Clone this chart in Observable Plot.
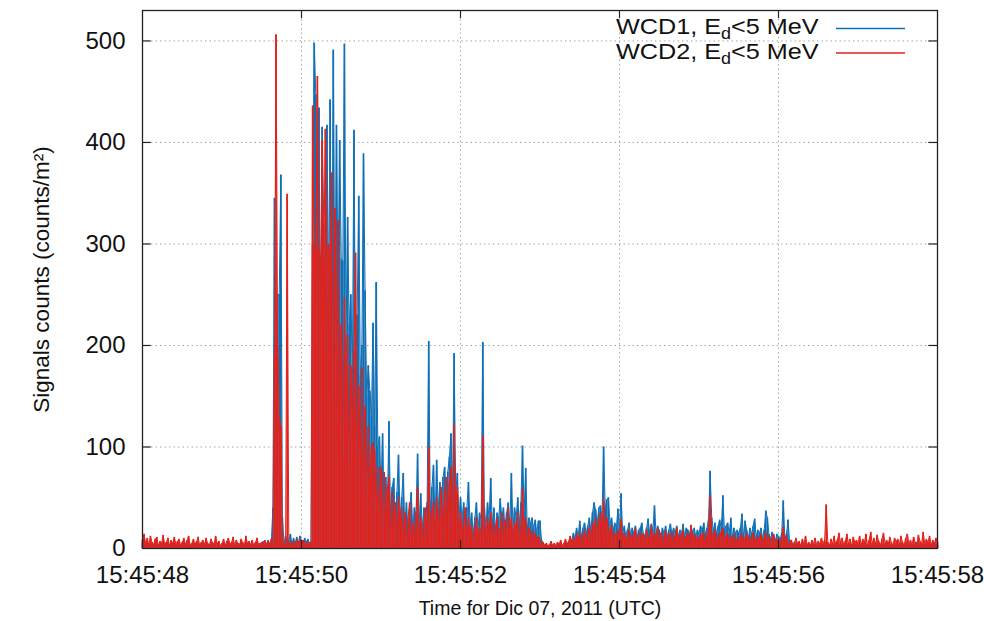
<!DOCTYPE html>
<html>
<head>
<meta charset="utf-8">
<script src="https://cdn.jsdelivr.net/npm/d3@7"></script>
<script src="https://cdn.jsdelivr.net/npm/@observablehq/plot@0.6"></script>
<style>
  html, body { margin: 0; padding: 0; background: #ffffff; }
  #chart { width: 984px; height: 621px; }
</style>
</head>
<body>
<div id="chart"></div>
<script>
// ---- data ----
// sample spacing in seconds after 15:45:48 UTC
const sampleStep = 0.02;
const xTickValues = [0, 2, 4, 6, 8, 10];
const xTickLabels = ["15:45:48", "15:45:50", "15:45:52", "15:45:54", "15:45:56", "15:45:58"];
const yTickValues = [0, 100, 200, 300, 400, 500];
const seriesNames = ["WCD1", "WCD2"];
const xTitle = "Time for Dic 07, 2011 (UTC)";
const yTitle = "Signals counts (counts/m\u00B2)";

// WCD1 (blue), one value per 0.02 s, rows of 0.5 s
const wcd1 = [
  5,9,3,7,2,6,4,3,8,5,2,6,3,7,4,3,6,2,5,3,7,3,4,6,2,
  4,6,3,5,7,2,4,6,3,5,6,2,4,5,3,7,3,2,6,4,3,7,3,5,2,
  3,6,2,5,7,3,4,6,2,5,3,3,6,4,2,7,3,5,3,5,2,4,6,3,3,
  4,7,3,5,8,3,6,40,345,200,250,250,368,30,6,12,4,8,14,4,10,5,11,6,12,
  8,5,10,6,9,4,7,300,498,447,200,434,150,415,320,180,417,250,442,200,491,230,417,260,402,
  285,283,497,210,326,220,250,180,412,180,230,347,170,200,389,254,150,180,155,130,222,120,262,100,110,
  60,113,30,70,40,125,35,60,69,25,55,92,30,50,74,20,45,15,38,55,20,40,30,93,25,
  54,20,40,30,45,204,35,60,82,25,87,40,65,50,70,80,45,75,90,113,60,192,55,74,30,
  50,30,45,20,40,65,25,35,15,30,45,20,35,28,203,40,22,45,30,69,25,40,20,35,30,
  49,30,40,20,35,45,25,74,20,40,30,50,25,45,101,35,79,20,30,25,30,20,28,15,27,
  27,8,5,3,4,2,3,5,2,4,3,5,3,6,2,4,7,3,6,10,8,15,10,20,12,
  27,12,20,25,15,22,30,18,35,45,38,25,40,42,30,100,40,48,50,25,30,18,25,20,39,
  20,54,15,22,12,18,25,14,20,15,22,10,18,20,25,15,12,20,29,15,24,18,42,15,22,
  18,12,20,15,22,12,18,24,14,20,16,22,12,18,15,24,12,20,18,14,22,16,20,12,18,
  15,22,18,25,14,20,28,76,30,18,25,15,22,28,20,52,18,22,25,15,30,12,20,15,18,
  15,20,34,12,27,18,10,20,14,22,29,12,18,15,20,10,18,37,30,14,10,16,12,8,14,
  12,8,15,47,10,14,28,6,8,4,5,3,6,4,3,5,2,6,3,4,2,5,3,4,2,
  3,5,2,4,3,6,2,4,3,5,2,4,6,3,4,2,5,3,4,2,5,3,4,2,5,
  3,5,2,4,6,3,4,2,5,3,4,6,2,4,3,5,2,4,3,6,2,4,3,5,2,
  4,2,5,3,4,6,3,2,5,3,4,2,6,3,4,5,2,4,3,5,2,4,6,3,4,3
];

// WCD2 (red), same sampling
const wcd2 = [
  8,14,5,10,3,12,6,4,9,11,3,7,5,13,4,6,10,3,8,5,11,4,7,9,3,
  6,10,4,8,12,3,5,9,4,7,11,3,6,8,4,10,5,3,9,6,4,12,5,7,3,
  5,9,3,7,10,4,6,11,3,8,5,4,9,6,3,12,5,7,4,8,3,6,10,4,5,
  6,4,8,3,7,5,9,4,190,506,200,130,120,10,4,5,349,6,4,7,3,6,8,4,9,
  5,8,4,7,3,6,4,436,300,290,465,295,285,402,280,413,290,300,275,370,150,335,200,323,120,
  220,90,247,140,210,80,180,120,195,291,90,160,70,178,60,140,50,120,40,100,104,96,35,80,30,
  80,20,75,15,60,70,10,55,20,45,8,50,25,40,10,35,5,30,45,10,25,8,35,60,12,
  30,8,25,40,10,100,15,35,45,10,50,20,40,60,15,55,70,20,65,80,25,122,40,60,15,
  35,10,25,40,8,30,15,22,5,18,30,8,20,12,111,25,10,30,15,35,8,25,12,30,10,
  20,35,10,28,15,40,12,30,8,25,15,35,10,22,59,18,30,8,20,12,18,5,15,8,12,
  8,4,6,3,5,2,4,7,3,5,2,6,4,8,3,5,9,4,7,12,5,10,6,14,8,
  15,6,12,18,8,14,20,10,25,18,30,12,28,35,15,48,25,30,20,12,22,8,15,10,18,
  12,28,8,15,6,12,18,7,14,10,20,6,12,16,8,14,5,18,10,12,22,8,15,10,20,
  8,15,6,12,18,7,14,10,16,5,12,20,8,14,10,18,6,12,15,8,23,10,14,6,12,
  8,14,10,16,6,12,20,52,15,10,18,6,14,10,16,20,8,12,15,6,12,8,14,5,10,
  8,12,15,6,10,14,5,12,8,15,10,6,12,9,14,5,10,16,8,12,6,10,14,5,9,
  6,10,5,21,8,12,6,4,8,3,6,10,4,7,3,9,5,12,4,6,3,8,5,10,4,
  7,4,10,5,8,43,6,3,9,5,12,4,8,15,6,10,4,7,14,5,9,3,11,6,8,
  5,12,4,9,6,14,3,8,16,5,10,4,13,7,3,9,15,5,8,4,11,6,3,10,7,
  9,4,12,6,3,10,14,5,8,4,11,6,3,13,7,5,16,4,9,6,12,3,8,5,10,6
];

// ---- styling ----
const BLUE = "#1170b5";
const RED = "#e3211b";
const GRID = "#a8a8a8";
const FONT = "'Liberation Sans', Arial, Helvetica, sans-serif";

const rows1 = wcd1.map((v, i) => ({t: i * sampleStep, v}));
const rows2 = wcd2.map((v, i) => ({t: i * sampleStep, v}));

const yMax = 530;
const inner = yTickValues.slice(1);
const innerX = xTickValues.slice(1, -1);

const plot = Plot.plot({
  width: 984,
  height: 621,
  marginLeft: 142,
  marginRight: 47,
  marginTop: 10,
  marginBottom: 73,
  style: {fontFamily: FONT, background: "#ffffff", color: "#111"},
  x: {domain: [0, 10], axis: null},
  y: {domain: [0, yMax], axis: null},
  marks: [
    Plot.ruleY(inner, {stroke: GRID, strokeWidth: 1, strokeDasharray: "1.5,3"}),
    Plot.ruleX(innerX, {stroke: GRID, strokeWidth: 1, strokeDasharray: "1.5,3"}),
    // dense sampling: draw each sample down to the baseline, then the connecting line
    Plot.ruleX(rows1, {x: "t", y1: 0, y2: "v", stroke: BLUE, strokeWidth: 1.7}),
    Plot.line(rows1, {x: "t", y: "v", stroke: BLUE, strokeWidth: 1}),
    Plot.ruleX(rows2, {x: "t", y1: 0, y2: "v", stroke: RED, strokeWidth: 1.7}),
    Plot.line(rows2, {x: "t", y: "v", stroke: RED, strokeWidth: 1}),
    Plot.frame({stroke: "#222", strokeWidth: 1.3}),
    // inward ticks on all four sides
    Plot.ruleY(inner, {x1: 0, x2: 0.11, stroke: "#222", strokeWidth: 1.2}),
    Plot.ruleY(inner, {x1: 9.89, x2: 10, stroke: "#222", strokeWidth: 1.2}),
    Plot.ruleX(innerX, {y1: 0, y2: 8, stroke: "#222", strokeWidth: 1.2}),
    Plot.ruleX(innerX, {y1: yMax - 8, y2: yMax, stroke: "#222", strokeWidth: 1.2}),
    Plot.axisX({ticks: xTickValues, tickFormat: d => xTickLabels[xTickValues.indexOf(d)],
      tickSize: 0, tickPadding: 17, fontSize: 24, label: null, fill: "#111"}),
    Plot.axisY({ticks: yTickValues, tickSize: 0, tickPadding: 17, fontSize: 24, label: null, fill: "#111"}),
    Plot.text([xTitle], {frameAnchor: "bottom", dy: 60, lineAnchor: "middle", textAnchor: "middle",
      fontSize: 19.5, fill: "#111"}),
    Plot.text([yTitle], {frameAnchor: "left", dx: -101, rotate: -90, textAnchor: "middle",
      lineAnchor: "middle", fontSize: 22.5, fill: "#111"})
  ]
});

document.getElementById("chart").appendChild(plot);

// legend (top-right, inside the frame); pieces placed one after another,
// stretched slightly to the width the reference shows
const svg = d3.select(plot);
const lg = svg.append("g").attr("font-family", FONT).attr("fill", "#111")
  .attr("text-anchor", "start");
const legendColors = [BLUE, RED];
const stretch = 1.12;
seriesNames.forEach((name, k) => {
  const ty = 34 + k * 25;
  const ly = 28.5 + k * 24.5;
  let x = 616;
  const parts = [
    {s: name + ", E", size: 22.5, dy: 0},
    {s: "d", size: 16, dy: 5},
    {s: "<5 MeV", size: 22.5, dy: 0}
  ];
  parts.forEach(p => {
    const el = lg.append("text").attr("x", x).attr("y", ty + p.dy)
      .attr("text-anchor", "start").attr("font-size", p.size).text(p.s);
    const w = el.node().getComputedTextLength() * stretch;
    el.attr("textLength", w).attr("lengthAdjust", "spacingAndGlyphs");
    x += w;
  });
  lg.append("line").attr("x1", 836).attr("x2", 905).attr("y1", ly).attr("y2", ly)
    .attr("stroke", legendColors[k]).attr("stroke-width", 1.6);
});
</script>
</body>
</html>
